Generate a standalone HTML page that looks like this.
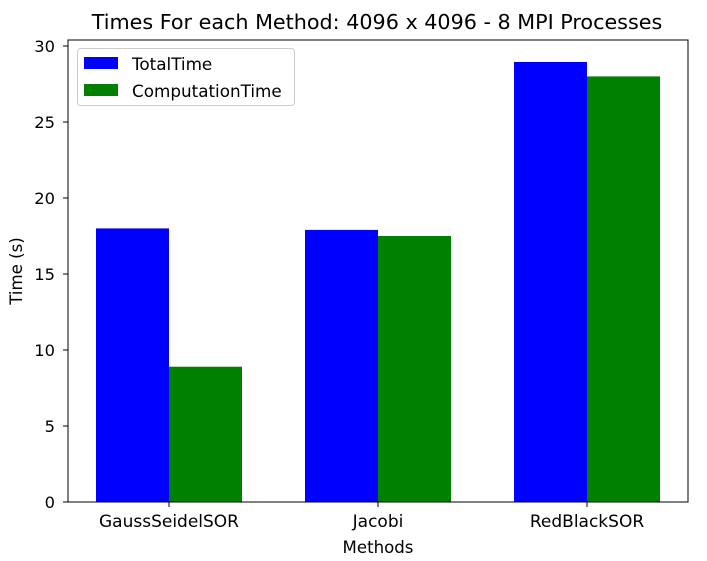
<!DOCTYPE html>
<html><head><meta charset="utf-8"><style>
body{margin:0;background:#fff;}
text{font-family:"DejaVu Sans","Liberation Sans",sans-serif;}
</style></head><body>
<svg id="chart" width="707" height="556" xmlns="http://www.w3.org/2000/svg">
<text x="377" y="29" font-size="20.7" text-anchor="middle">Times For each Method: 4096 x 4096 - 8 MPI Processes</text>
<g id="bars"></g>
<g id="axes"></g>
<text x="378" y="553" font-size="16.6" text-anchor="middle">Methods</text>
<text transform="translate(22,271) rotate(-90)" font-size="16.6" text-anchor="middle">Time (s)</text>
<g>
<rect x="77.5" y="48.5" width="217" height="57" rx="3" fill="#fff" stroke="#ccc"/>
<rect x="84" y="57" width="34" height="12" fill="#0000ff"/>
<text x="132" y="70" font-size="16.8">TotalTime</text>
<rect x="84" y="84" width="34" height="12" fill="#008000"/>
<text x="132" y="97" font-size="16.8">ComputationTime</text>
</g>
</svg>
<script>
const categories=["GaussSeidelSOR","Jacobi","RedBlackSOR"];
const totalTime=[18.0,17.9,28.95];
const computationTime=[8.9,17.5,28.0];
const yTicks=[0,5,10,15,20,25,30];
const NS="http://www.w3.org/2000/svg";
const L=68,R=688,T=40,B=502;
function y(v){return 502-v*15.2;}
function x(i){return 169+i*209;}
const bw=73;
const bars=document.getElementById('bars');
const axes=document.getElementById('axes');
function mk(tag,attrs,parent){const e=document.createElementNS(NS,tag);for(const k in attrs)e.setAttribute(k,attrs[k]);parent.appendChild(e);return e;}
categories.forEach((c,i)=>{
  let r=mk('rect',{x:x(i)-bw,y:y(totalTime[i]),width:bw,height:y(0)-y(totalTime[i]),fill:'#0000ff'},bars);
  
  
  let g=mk('rect',{x:x(i),y:y(computationTime[i]),width:bw,height:y(0)-y(computationTime[i]),fill:'#008000'},bars);
  
  
  mk('line',{x1:x(i),x2:x(i),y1:B,y2:B+5,stroke:'#000'},axes);
  let t=mk('text',{x:x(i),y:B+25,'font-size':17,'text-anchor':'middle'},axes);
  t.textContent=c;
  
  
});
yTicks.forEach(v=>{
  mk('line',{x1:L-5,x2:L,y1:y(v),y2:y(v),stroke:'#000'},axes);
  let t=mk('text',{x:L-13,y:y(v)+6,'font-size':16.3,'text-anchor':'end'},axes);
  t.textContent=v;
  
  
});
let f=mk('rect',{x:L,y:T,width:R-L,height:B-T,fill:'none',stroke:'#000','stroke-width':1},axes);


</script>
</body></html>
